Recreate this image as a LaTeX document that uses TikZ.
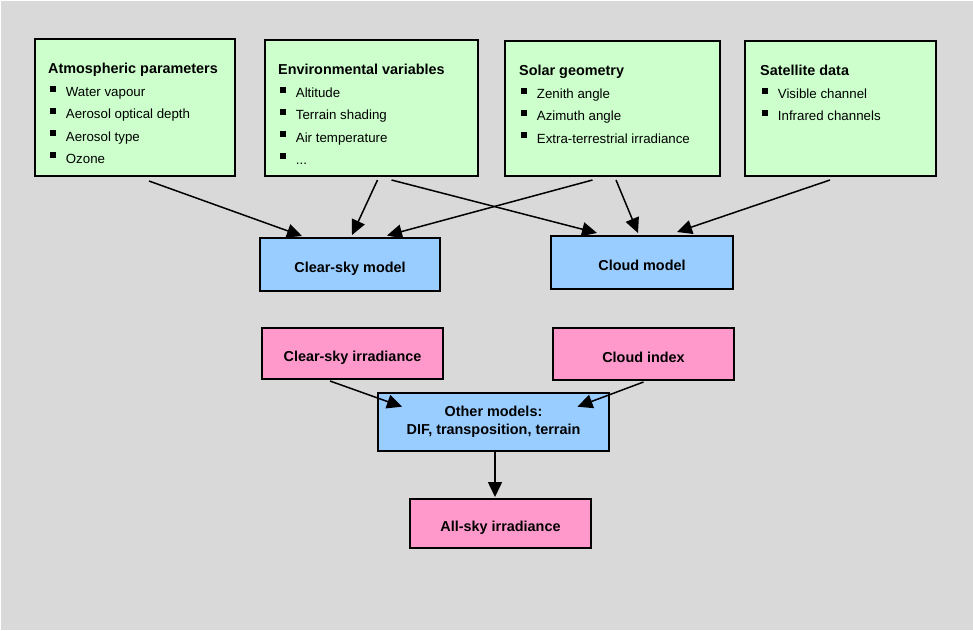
\documentclass[tikz,border=0pt]{standalone}
\usepackage{fontspec}
\setmainfont{Liberation Sans}
\usetikzlibrary{calc,arrows.meta}

\definecolor{bggray}{HTML}{D9D9D9}
\definecolor{ingreen}{HTML}{CCFFCC}
\definecolor{modblue}{HTML}{99CCFF}
\definecolor{outpink}{HTML}{FF99CC}

\newcommand{\boldtxt}{\fontsize{14.4pt}{18.3pt}\selectfont\bfseries}
\newcommand{\boxtitle}[1]{{\boldtxt #1}}
\newcommand{\bulitem}[1]{\hspace*{2pt}\rule[5pt]{6pt}{6pt}\hspace*{9.7pt}#1}

\begin{document}
\begin{tikzpicture}[x=1pt, y=-1pt,
	inbox/.style={draw, line width=2pt, fill=ingreen},
	modelbox/.style={draw, line width=2pt, fill=modblue, minimum width=181, minimum height=52, font=\boldtxt},
	outbox/.style={draw, line width=2pt, fill=outpink, minimum width=181, minimum height=52, font=\boldtxt},
	oneline/.style={text height=16.6pt, text depth=0pt},
	itemtext/.style={anchor=north west, inner sep=0pt, align=left, font=\fontsize{13.3pt}{22.3pt}\selectfont},
	arr/.style={line width=1.5pt, -{Triangle[length=15pt, width=14pt]}}]
	\useasboundingbox (0,0) rectangle (973,630);
	\fill[white] (0,0) rectangle (973,630);
	\fill[bggray] (1,1) rectangle (973,630);
	
	%input boxes (top)
	\node[inbox, minimum width=200, minimum height=137] (atm) at (135,107.5) {};
	\node[inbox, minimum width=213, minimum height=136] (env) at (371.5,108) {};
	\node[inbox, minimum width=215, minimum height=135] (sol) at (612.5,108.5) {};
	\node[inbox, minimum width=191, minimum height=135] (sat) at (840.5,108.5) {};
	
	\node[itemtext] (atmtxt) at ($(atm.north west)+(14,24.6)$) {\boxtitle{Atmospheric parameters}\\[1pt]
		\bulitem{Water vapour}\\ \bulitem{Aerosol optical depth}\\ \bulitem{Aerosol type}\\ \bulitem{Ozone}};
	\node[itemtext] (envtxt) at ($(env.north west)+(14,24.6)$) {\boxtitle{Environmental variables}\\[1pt]
		\bulitem{Altitude}\\ \bulitem{Terrain shading}\\ \bulitem{Air temperature}\\ \bulitem{...}};
	\node[itemtext] (soltxt) at ($(sol.north west)+(15,24.6)$) {\boxtitle{Solar geometry}\\[1pt]
		\bulitem{Zenith angle}\\ \bulitem{Azimuth angle}\\ \bulitem{Extra-terrestrial irradiance}};
	\node[itemtext] (sattxt) at ($(sat.north west)+(16,24.6)$) {\boxtitle{Satellite data}\\[1pt]
		\bulitem{Visible channel}\\ \bulitem{Infrared channels}};
	
	%models
	\node[modelbox, oneline, minimum width=180, minimum height=53] (csm) at (350,264.5) {Clear-sky model};
	\node[modelbox, oneline, minimum width=182, minimum height=53] (cld) at (642,262.5) {Cloud model};
	\node[modelbox, minimum width=231, minimum height=58, align=center] (oth) at (493.5,422) {Other models:\\DIF, transposition, terrain};
	
	%outputs
	\node[outbox, oneline, minimum height=51] (csi) at (352.5,353.5) {Clear-sky irradiance};
	\node[outbox, oneline] (cix) at (643.5,354) {Cloud index};
	\node[outbox, oneline, minimum height=49] (all) at (500.5,523.5) {All-sky irradiance};
	
	%arrows into the models
	\draw[arr] ($(atm.south)+(14,4)$) -- ($(csm.north)+(-48,-1)$);		%atm--csm
	\draw[arr] ($(env.south)+(6,3)$) -- ($(csm.north)+(2,-2)$);		%env--csm
	\draw[arr] ($(env.south)+(20,3)$) -- ($(cld.north)+(-45,-2)$);		%env--cld
	\draw[arr] ($(sol.south)+(-20,3)$) -- ($(csm.north)+(37,-1.5)$);	%sol--csm
	\draw[arr] ($(sol.south)+(3.5,3)$) -- ($(cld.north)+(-4,-2)$);		%sol--cld
	\draw[arr] ($(sat.south)+(-10.5,3)$) -- ($(cld.north)+(35,-3)$);	%sat--cld
	
	%arrows into the other models and out
	\draw[arr] ($(csi.south)+(-22.5,1)$) -- ($(oth.north)+(-91.5,14.7)$);	%csi--oth
	\draw[arr] ($(cix.south)+(0,1)$) -- ($(oth.north)+(84,14.7)$);		%cix--oth
	\draw[arr] ($(oth.south)+(1.5,0)$) -- ($(all.north)+(-5.5,-1)$);	%oth--all
\end{tikzpicture}
\end{document}
